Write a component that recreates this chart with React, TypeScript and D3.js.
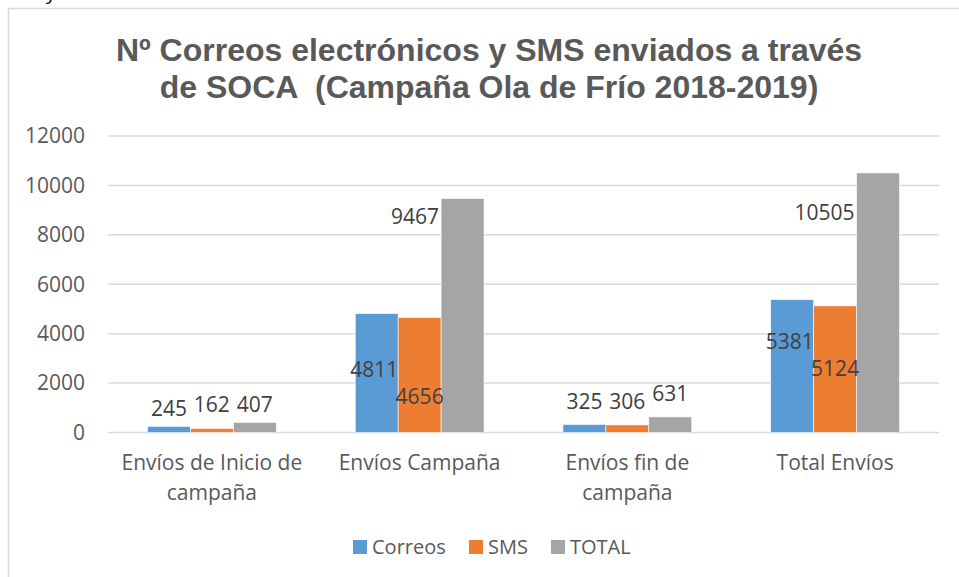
import React, { useRef, useEffect } from 'react'
import * as d3 from 'd3'

const titleLines = ['Nº Correos electrónicos y SMS enviados a través', 'de SOCA \u00a0(Campaña Ola de Frío 2018-2019)']
const categories = [['Envíos de Inicio de', 'campaña'], ['Envíos Campaña'], ['Envíos fin de', 'campaña'], ['Total Envíos']]
const seriesNames = ['Correos', 'SMS', 'TOTAL']
const correos = [245, 4811, 325, 5381]
const sms = [162, 4656, 306, 5124]
const total = [407, 9467, 631, 10505]
const yTicks = [0, 2000, 4000, 6000, 8000, 10000, 12000]

// where each data label was left in the original, in chart units
const correosLabelAt = [950, 2525, 1232, 3670]
const smsLabelAt = [1110, 1435, 1232, 2565]
const totalLabelAt = [1110, 8750, 1555, 8910]
// 'mid' = centred on bar, 'in' = ends at bar's right edge, 'before' = ends left of the bar
const correosLabelAlign = ['mid', 'in', 'mid', 'in']
const smsLabelAlign = ['mid', 'mid', 'mid', 'mid']
const totalLabelAlign = ['mid', 'before', 'mid', 'before']

const colors = ['#5b9bd5', '#ed7d31', '#a5a5a5']
const FONT = '"Open Sans", "Noto Sans", sans-serif'

export default function App() {
  const ref = useRef<SVGSVGElement>(null)

  useEffect(() => {
    const el = ref.current
    if (!el) return
    const svg = d3.select(el)
    svg.selectAll('*').remove()

    const width = 959
    const height = 577
    const left = 108, right = 939, top = 136, bottom = 432.5

    // tail of a letter from the text above the chart, cut off by the crop
    svg.append('text').attr('x', 46).attr('y', -1)
      .attr('font-family', FONT).attr('font-size', 20).attr('fill', '#000')
      .text('y')

    svg.append('rect')
      .attr('x', 8.5).attr('y', 8.5)
      .attr('width', width + 20).attr('height', height + 20)
      .attr('fill', '#fff').attr('stroke', '#d9d9d9').attr('stroke-width', 1.5)

    // title
    svg.append('g').selectAll('text').data(titleLines).join('text')
      .attr('x', 489).attr('y', (d, i) => 61 + i * 37)
      .attr('text-anchor', 'middle')
      .attr('font-family', '"Liberation Sans", Arial, sans-serif')
      .attr('font-weight', 'bold').attr('font-size', 32)
      .attr('fill', '#595959')
      .text(d => d)

    const y = d3.scaleLinear().domain([0, 12000]).range([bottom, top])
    const x0 = d3.scaleBand<number>().domain(d3.range(categories.length))
      .range([left, right]).paddingInner(0.38).paddingOuter(0.19)
    const x1 = d3.scaleBand<number>().domain(d3.range(seriesNames.length))
      .range([0, x0.bandwidth()])

    // gridlines + y labels
    const grid = svg.append('g')
    grid.selectAll('line').data(yTicks).join('line')
      .attr('x1', left).attr('x2', right)
      .attr('y1', d => y(d)).attr('y2', d => y(d))
      .attr('stroke', '#d9d9d9').attr('stroke-width', 1.5)
    grid.selectAll('text').data(yTicks).join('text')
      .attr('x', 85).attr('y', d => y(d)).attr('dy', '0.35em')
      .attr('text-anchor', 'end')
      .attr('font-family', FONT).attr('font-size', 21).attr('fill', '#595959')
      .text(d => String(d))

    const series = [
      { name: seriesNames[0], values: correos, labelAt: correosLabelAt, align: correosLabelAlign },
      { name: seriesNames[1], values: sms, labelAt: smsLabelAt, align: smsLabelAlign },
      { name: seriesNames[2], values: total, labelAt: totalLabelAt, align: totalLabelAlign },
    ]

    series.forEach((s, si) => {
      const g = svg.append('g')
      g.selectAll('rect').data(s.values).join('rect')
        .attr('x', (d, i) => (x0(i) as number) + (x1(si) as number))
        .attr('y', d => y(d))
        .attr('width', x1.bandwidth())
        .attr('height', d => y(0) - y(d))
        .attr('fill', colors[si])
        .attr('stroke', '#fff').attr('stroke-width', 0.6)
    })

    // data labels
    series.forEach((s, si) => {
      svg.append('g').selectAll('text').data(s.values).join('text')
        .attr('x', (d, i) => {
          const bx = (x0(i) as number) + (x1(si) as number)
          const a = s.align[i]
          if (a === 'in') return bx + x1.bandwidth()
          if (a === 'before') return bx - 2
          return bx + x1.bandwidth() / 2
        })
        .attr('y', (d, i) => y(s.labelAt[i]))
        .attr('dy', '0.35em')
        .attr('text-anchor', (d, i) => s.align[i] === 'mid' ? 'middle' : 'end')
        .attr('font-family', FONT).attr('font-size', 21).attr('fill', '#404040')
        .text(d => String(d))
    })

    // category labels
    const cat = svg.append('g')
    categories.forEach((lines, i) => {
      cat.append('text')
        .attr('x', (x0(i) as number) + x0.bandwidth() / 2)
        .attr('y', 463)
        .attr('text-anchor', 'middle')
        .attr('font-family', FONT).attr('font-size', 21).attr('fill', '#595959')
        .selectAll('tspan').data(lines).join('tspan')
        .attr('x', (x0(i) as number) + x0.bandwidth() / 2)
        .attr('dy', (d, j) => j === 0 ? '0.35em' : 30)
        .text(d => d)
    })

    // legend
    const legX = [353, 469, 551]
    const leg = svg.append('g')
    seriesNames.forEach((n, i) => {
      leg.append('rect').attr('x', legX[i]).attr('y', 540).attr('width', 14).attr('height', 14).attr('fill', colors[i])
      leg.append('text').attr('x', legX[i] + 19).attr('y', 547).attr('dy', '0.35em')
        .attr('font-family', FONT).attr('font-size', 20).attr('fill', '#595959')
        .text(n)
    })
  }, [])

  return (
    <svg ref={ref} width={959} height={577}
      style={{ position: 'absolute', left: 0, top: 0, display: 'block', overflow: 'visible' }} />
  )
}
